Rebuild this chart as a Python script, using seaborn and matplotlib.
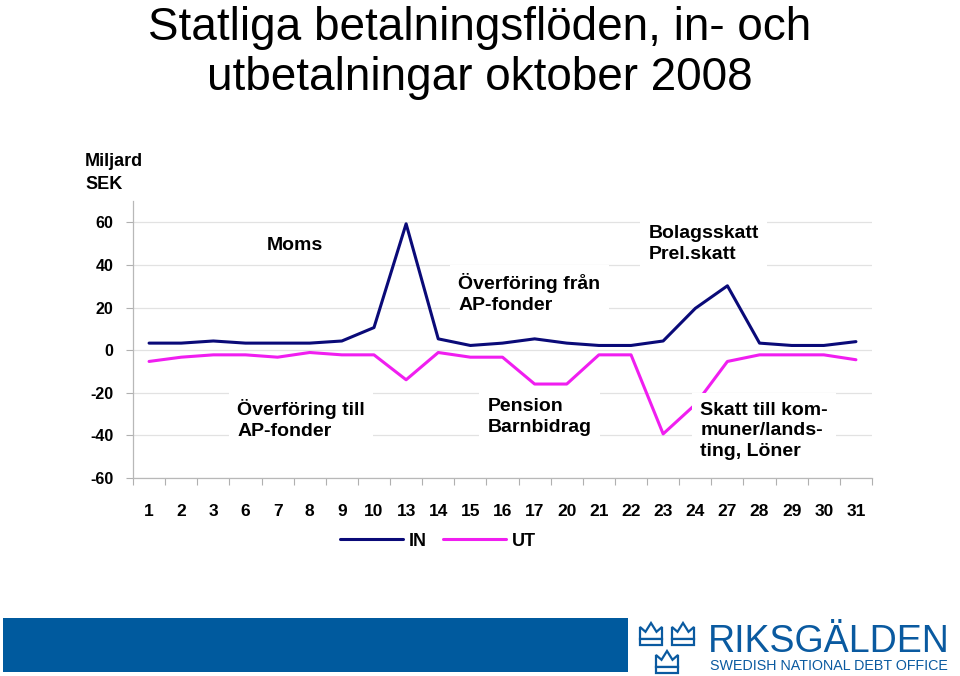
import pandas as pd
import matplotlib
matplotlib.use("Agg")
import matplotlib.pyplot as plt
from matplotlib.patches import Rectangle, Polygon
from matplotlib.ticker import FixedLocator
import seaborn as sns

# Statliga betalningsflöden oktober 2008 (miljarder SEK)
days = ['1', '2', '3', '6', '7', '8', '9', '10', '13', '14', '15', '16',
        '17', '20', '21', '22', '23', '24', '27', '28', '29', '30', '31']
in_vals = [3.3, 3.3, 4.3, 3.3, 3.3, 3.3, 4.3, 10.6, 59.3, 5.3, 2.2, 3.3,
           5.3, 3.3, 2.2, 2.2, 4.3, 19.6, 30.2, 3.3, 2.2, 2.2, 4.0]
ut_vals = [-5.3, -3.3, -2.2, -2.2, -3.3, -1.1, -2.2, -2.2, -13.9, -1.1, -3.3, -3.3,
           -15.9, -15.9, -2.2, -2.2, -39.3, -25.5, -5.3, -2.2, -2.2, -2.2, -4.5]
series = ['IN', 'UT']
y_ticks = [-60, -40, -20, 0, 20, 40, 60]

NAVY = '#0a0a78'
MAGENTA = '#f01ef0'
BLUE = '#0a5aa0'


def build_frame():
    df = pd.DataFrame({'pos': range(len(days)), 'IN': in_vals, 'UT': ut_vals})
    return df.melt(id_vars='pos', var_name='serie', value_name='value')


def px(x, y):
    # figure pixel (from top-left) -> figure fraction
    return x / 960, 1 - y / 676


def crown(fig, cx, cy, w, h):
    pts = [(cx - w / 2, cy), (cx - w / 2, cy - h * 0.75), (cx - w / 4, cy - h * 0.45),
           (cx, cy - h), (cx + w / 4, cy - h * 0.45), (cx + w / 2, cy - h * 0.75),
           (cx + w / 2, cy)]
    fig.add_artist(Polygon([px(*p) for p in pts], closed=True, transform=fig.transFigure,
                           facecolor='white', edgecolor=BLUE, lw=1.6))
    fig.add_artist(Rectangle(px(cx - w / 2, cy + h * 0.35), w / 960, h * 0.35 / 676,
                             transform=fig.transFigure, facecolor='white',
                             edgecolor=BLUE, lw=1.6))


def main():
    sns.set_style("white")
    plt.rcParams['font.family'] = ['Liberation Sans', 'DejaVu Sans']
    plt.rcParams['axes.unicode_minus'] = False
    plt.rcParams['text.color'] = 'black'
    plt.rcParams['xtick.color'] = 'black'
    plt.rcParams['ytick.color'] = 'black'

    fig = plt.figure(figsize=(9.6, 6.76), dpi=100)
    ax = fig.add_axes([133 / 960, 1 - 478 / 676, (872 - 133) / 960, (478 - 201) / 676])

    df = build_frame()
    sns.lineplot(data=df, x='pos', y='value', hue='serie', hue_order=series,
                 palette={'IN': NAVY, 'UT': MAGENTA}, linewidth=2.2, legend=False,
                 ax=ax, zorder=3)

    ax.set_xlim(-0.5, len(days) - 0.5)
    ax.set_ylim(-60, 70)
    ax.set_xlabel('')
    ax.set_ylabel('')

    ax.set_yticks(y_ticks)
    ax.set_yticklabels([str(v) for v in y_ticks], fontsize=11.5, fontweight='bold')
    ax.yaxis.grid(True, color='#e2e2e2', lw=0.9)
    ax.tick_params(axis='y', length=5, width=0.8, color='#b0b0b0', labelcolor='black',
                   pad=9, direction='out', left=True)

    ax.set_xticks(range(len(days)))
    ax.set_xticklabels(days, fontsize=12.5, fontweight='bold')
    ax.xaxis.set_minor_locator(FixedLocator([i - 0.5 for i in range(len(days) + 1)]))
    ax.tick_params(axis='x', which='major', length=0, pad=19, labelcolor='black')
    ax.tick_params(axis='x', which='minor', length=5, width=0.8, color='#b0b0b0',
                   direction='out', bottom=True)

    for side in ['top', 'right']:
        ax.spines[side].set_visible(False)
    for side in ['left', 'bottom']:
        ax.spines[side].set_color('#b8b8b8')
        ax.spines[side].set_linewidth(0.9)

    box = dict(facecolor='white', edgecolor='none', pad=6)
    notes = [
        (3.67, 49, 'Moms'),
        (9.62, 26.6, 'Överföring från\nAP-fonder'),
        (15.54, 50, 'Bolagsskatt\nPrel.skatt'),
        (2.74, -32.5, 'Överföring till\nAP-fonder'),
        (10.53, -31.5, 'Pension\nBarnbidrag'),
        (17.16, -37.9, 'Skatt till kom-\nmuner/lands-\nting, Löner'),
    ]
    for x, y, txt in notes:
        ax.text(x, y, txt, fontsize=14, fontweight='bold', ha='left', va='center',
                linespacing=1.3, bbox=box, zorder=5)

    # titel och enhet
    fig.text(*px(480, 40), 'Statliga betalningsflöden, in- och', fontsize=33,
             ha='center', va='baseline')
    fig.text(*px(480, 90), 'utbetalningar oktober 2008', fontsize=33,
             ha='center', va='baseline')
    fig.text(*px(85, 173), 'Miljard\nSEK', fontsize=13, fontweight='bold',
             ha='left', va='center', linespacing=1.45)

    fig.legend(handles=ax.lines[:2], labels=series, loc='center',
               bbox_to_anchor=px(438, 541), ncol=2, frameon=False,
               prop={'size': 13, 'weight': 'bold'},
               handlelength=3.5, handletextpad=0.3, columnspacing=0.9)

    # sidfot
    fig.add_artist(Rectangle(px(3, 672), 625 / 960, 54 / 676, transform=fig.transFigure,
                             facecolor='#005a9e', edgecolor='none'))
    crown(fig, 651, 639, 22, 16)
    crown(fig, 683, 639, 22, 16)
    crown(fig, 667, 667, 22, 16)
    fig.text(*px(708, 652), 'RIKSGÄLDEN', fontsize=27, color=BLUE,
             ha='left', va='baseline')
    fig.text(*px(710, 670), 'SWEDISH NATIONAL DEBT OFFICE', fontsize=10.3, color=BLUE,
             ha='left', va='baseline')

    fig.savefig('out.png', dpi=100)


if __name__ == '__main__':
    main()
